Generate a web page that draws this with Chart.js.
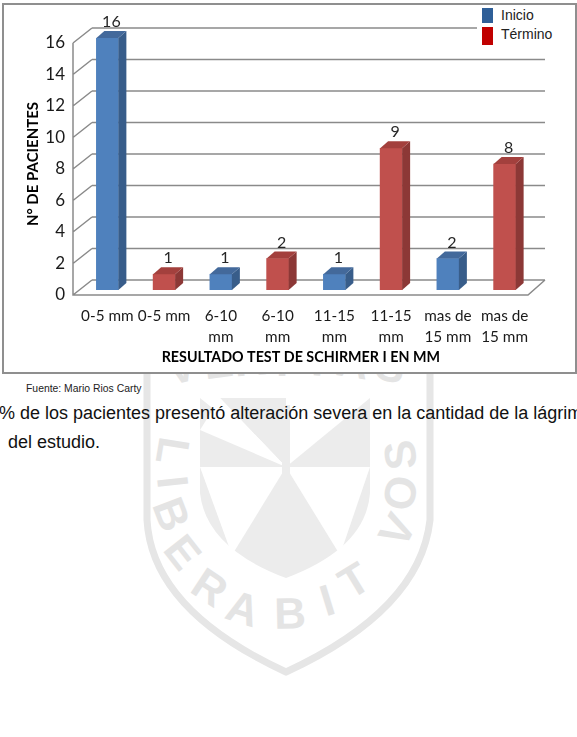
<!DOCTYPE html>
<html>
<head>
<meta charset="utf-8">
<script src="https://cdn.jsdelivr.net/npm/chart.js@4.4.1/dist/chart.umd.min.js"></script>
<style>
  body { margin: 0; background: #fff; width: 577px; height: 737px; overflow: hidden; position: relative; }
  #marca { position: absolute; left: 0; top: 0; }
  #caja { position: absolute; left: 2px; top: 3px; width: 571px; height: 367px; border: 2px solid #8f8f8f; background: #fff; }
  #grafico { position: absolute; left: 0; top: 0; }
  #leyenda { position: absolute; left: 477px; top: 5px; width: 82px; height: 43px; background: #fff;
             font-family: "Liberation Sans", Arial, sans-serif; font-size: 14px; color: #222; }
  .sw { position: absolute; left: 5px; width: 11px; }
  .tx { position: absolute; left: 24px; }
  #fuente { position: absolute; left: 26px; top: 383px; font-family: "Liberation Sans", Arial, sans-serif; font-size: 10.4px; color: #222; white-space: nowrap; }
  .parrafo { position: absolute; font-family: "Liberation Sans", Arial, sans-serif; font-size: 18px; color: #111; white-space: nowrap; }
</style>
</head>
<body>
<svg id="marca" width="577" height="737" xmlns="http://www.w3.org/2000/svg">
  <path d="M147,350 L147,520 Q152,610 286,672 Q420,610 430,520 L430,350" fill="none" stroke="#e6e6e6" stroke-width="7"/>
  <path d="M200,398 L370,398 L370,493 Q366,548 286,578 Q206,548 200,493 Z" fill="#ececec"/>
  <g fill="#fff">
    <polygon points="286,467 286,398 370,398"/>
    <polygon points="286,467 370,467 340,555"/>
    <polygon points="286,467 232,555 200,467"/>
    <polygon points="286,467 200,398 220,398"/>
    <polygon points="286,467 220,398 200,430"/>
  </g>
  <rect x="282" y="405" width="8" height="160" fill="#ececec"/>
  <g id="letras" font-family="Liberation Sans, Arial, sans-serif" font-weight="bold" font-size="44" fill="#e4e4e4" text-anchor="middle" dominant-baseline="central"></g>
</svg>

<div id="caja"></div>
<canvas id="grafico" width="577" height="372"></canvas>
<div id="leyenda">
  <div class="sw" style="top:3px;height:15px;background:#2f5f98"></div>
  <div class="tx" style="top:2px">Inicio</div>
  <div class="sw" style="top:22px;height:18px;background:#c00000"></div>
  <div class="tx" style="top:21px">Término</div>
</div>
<div id="fuente">Fuente: Mario Rios Carty</div>
<div class="parrafo" style="left:-1px;top:403px">% de los pacientes presentó alteración severa en la cantidad de la lágrima</div>
<div class="parrafo" style="left:8px;top:432px">del estudio.</div>

<script>
// categorias del eje x (dos lineas cuando hace falta)
const categorias = [
  ['0-5 mm'], ['0-5 mm'],
  ['6-10', 'mm'], ['6-10', 'mm'],
  ['11-15', 'mm'], ['11-15', 'mm'],
  ['mas de', '15 mm'], ['mas de', '15 mm']
];
const inicio  = [16, null, 1, null, 1, null, 2, null];
const termino = [null, 1, null, 2, null, 9, null, 8];
const yMin = 0, yMax = 16, yPaso = 2;

// letras de la marca de agua (decoracion de fondo)
const letrasMarca = [
  ['V', 181, 367, -14], ['E', 218, 362, -8], ['R', 250, 360, -4], ['I', 282, 360, 0],
  ['T', 318, 360, 4], ['A', 353, 362, 9], ['S', 391, 366, 14],
  ['L', 173, 451], ['I', 173, 482], ['B', 172, 514], ['E', 183, 552], ['R', 210, 587],
  ['A', 243, 608], ['B', 290, 613], ['I', 327, 600], ['T', 354, 580],
  ['V', 397, 530], ['O', 400, 493], ['S', 400, 455]
];
const g = document.getElementById('letras');
letrasMarca.forEach(l => {
  let rot = l[3];
  if (rot === undefined) {
    const dx = 287 - l[1], dy = 470 - l[2];
    rot = Math.atan2(dx, -dy) * 180 / Math.PI;
  }
  const t = document.createElementNS('http://www.w3.org/2000/svg', 'text');
  t.setAttribute('x', l[1]);
  t.setAttribute('y', l[2]);
  t.setAttribute('transform', `rotate(${rot} ${l[1]} ${l[2]})`);
  t.textContent = l[0];
  g.appendChild(t);
});

const fuente = 'Lato, "Open Sans", sans-serif';

const colores = {
  azul: { frente: '#4f81bd', lado: '#385d8a', techo: '#43699b' },
  rojo: { frente: '#c0504d', lado: '#8c3836', techo: '#a3403d' }
};

// paredes, piso y lineas de cuadricula en 3D
const paredes = {
  id: 'paredes',
  beforeDatasetsDraw(chart) {
    const { ctx, chartArea } = chart;
    const y = chart.scales.y;
    const frenteIzq = chartArea.left - 6;
    const fondoIzq = frenteIzq + 19;
    const fondoDer = chartArea.right + 12;
    const frenteDer = fondoDer - 17;
    ctx.save();
    ctx.strokeStyle = '#8a8a8a';
    ctx.lineWidth = 1.5;
    ctx.beginPath();
    for (let v = yMin; v <= yMax; v += yPaso) {
      const p = y.getPixelForValue(v);
      ctx.moveTo(fondoIzq, p - 10);
      ctx.lineTo(fondoDer, p - 10);
      ctx.moveTo(frenteIzq, p + 5);
      ctx.lineTo(fondoIzq, p - 10);
    }
    const top = y.getPixelForValue(yMax), cero = y.getPixelForValue(yMin);
    ctx.moveTo(frenteIzq, top + 5);
    ctx.lineTo(frenteIzq, cero + 5);
    ctx.lineTo(frenteDer, cero + 5);
    ctx.lineTo(fondoDer, cero - 10);
    ctx.stroke();
    ctx.restore();
  },
  afterDatasetsDraw(chart) {
    const { ctx } = chart;
    const dx = 8, dy = 7;
    ctx.save();
    chart.data.datasets.forEach((ds, i) => {
      const meta = chart.getDatasetMeta(i);
      const c = colores[ds.tono];
      meta.data.forEach((bar, j) => {
        const val = ds.data[j];
        if (val === null) return;
        const izq = bar.x - bar.width / 2, der = bar.x + bar.width / 2;
        const arriba = bar.y, base = bar.base;
        ctx.fillStyle = c.lado;
        ctx.beginPath();
        ctx.moveTo(der, arriba);
        ctx.lineTo(der + dx, arriba - dy);
        ctx.lineTo(der + dx, base - dy);
        ctx.lineTo(der, base);
        ctx.closePath();
        ctx.fill();
        ctx.fillStyle = c.techo;
        ctx.beginPath();
        ctx.moveTo(izq, arriba);
        ctx.lineTo(izq + dx, arriba - dy);
        ctx.lineTo(der + dx, arriba - dy);
        ctx.lineTo(der, arriba);
        ctx.closePath();
        ctx.fill();
        ctx.fillStyle = '#262626';
        ctx.font = '16px ' + fuente;
        ctx.textAlign = 'center';
        ctx.textBaseline = 'middle';
        ctx.fillText(String(val), bar.x + 4, arriba - 16);
      });
    });
    ctx.restore();
  }
};

new Chart(document.getElementById('grafico').getContext('2d'), {
  type: 'bar',
  data: {
    labels: categorias,
    datasets: [
      { label: 'Inicio', tono: 'azul', data: inicio, backgroundColor: colores.azul.frente },
      { label: 'Término', tono: 'rojo', data: termino, backgroundColor: colores.rojo.frente }
    ]
  },
  options: {
    responsive: false,
    animation: false,
    layout: { padding: { left: 0, right: 44, top: 38, bottom: 0 } },
    datasets: { bar: { grouped: false, barThickness: 22 } },
    plugins: { legend: { display: false }, tooltip: { enabled: false } },
    scales: {
      x: {
        grid: { display: false, drawTicks: false },
        border: { display: false },
        ticks: { font: { family: fuente, size: 15.3, lineHeight: 1.35 }, color: '#1a1a1a', padding: 16, maxRotation: 0, autoSkip: false },
        title: { display: true, text: 'RESULTADO TEST DE SCHIRMER I EN MM   ', color: '#000',
                 font: { family: fuente, size: 14.3, weight: 'bold' }, padding: { top: 0, bottom: 6 } },
        afterFit(s) { s.height = 82; }
      },
      y: {
        min: yMin, max: yMax,
        grid: { display: false, drawTicks: false },
        border: { display: false },
        ticks: { stepSize: yPaso, padding: 14, labelOffset: 5, font: { family: fuente, size: 17 }, color: '#1a1a1a' },
        title: { display: true, text: 'N° DE PACIENTES', color: '#000',
                 font: { family: fuente, size: 15, weight: 'bold' }, padding: { top: 24 } },
        afterFit(s) { s.width = 79; }
      }
    }
  },
  plugins: [paredes]
});
</script>
</body>
</html>
